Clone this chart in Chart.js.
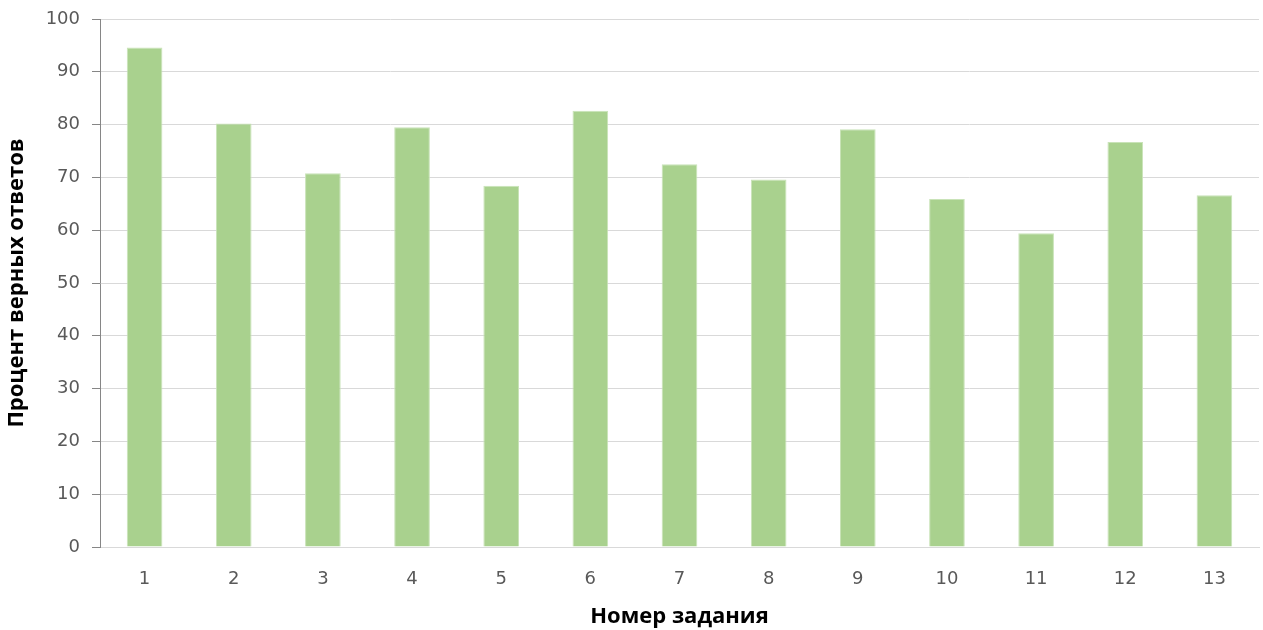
<!DOCTYPE html>
<html>
<head>
<meta charset="utf-8">
<script src="https://cdn.jsdelivr.net/npm/chart.js@4"></script>
<style>
html,body{margin:0;padding:0;background:#fff;}
#wrap{width:1263px;height:630px;}
</style>
</head>
<body>
<div id="wrap"><canvas id="c" width="1263" height="630"></canvas></div>
<script>
const categories = ["1","2","3","4","5","6","7","8","9","10","11","12","13"];
const values = [94.6, 80.2, 70.8, 79.5, 68.4, 82.6, 72.5, 69.6, 79.1, 65.9, 59.4, 76.7, 66.6];
const xTitle = "Номер задания";
const yTitle = "Процент верных ответов";

new Chart(document.getElementById('c'), {
  type: 'bar',
  data: {
    labels: categories,
    datasets: [{
      data: values,
      backgroundColor: '#a9d18e',
      borderColor: '#c9e3b8',
      borderWidth: 1,
      barPercentage: 0.4,
      categoryPercentage: 1.0
    }]
  },
  options: {
    responsive: false,
    animation: false,
    devicePixelRatio: 1,
    layout: { padding: { top: 19, right: 4, left: 0, bottom: 0 } },
    plugins: { legend: { display: false }, tooltip: { enabled: false } },
    scales: {
      x: {
        grid: { display: false, drawTicks: false },
        border: { color: '#d9d9d9', width: 1 },
        ticks: { color: '#595959', font: { family: 'DejaVu Sans', size: 18 }, padding: 22 },
        title: { display: true, text: xTitle, color: '#000', font: { family: 'Open Sans', size: 22, weight: 'bold' }, padding: { top: 4, bottom: 0 } },
        afterFit: s => { s.height = 83; }
      },
      y: {
        min: 0, max: 100,
        ticks: { stepSize: 10, color: '#595959', font: { family: 'DejaVu Sans', size: 18 }, padding: 12 },
        grid: { color: '#d9d9d9', tickColor: '#868686', tickLength: 8, drawTicks: true },
        border: { color: '#868686', width: 1 },
        title: { display: true, text: yTitle, color: '#000', font: { family: 'Open Sans', size: 22, weight: 'bold' }, padding: { top: 4, bottom: 4 } },
        afterFit: s => { s.width = 100; s.paddingTop = 0; s.paddingBottom = 0; }
      }
    }
  }
});
</script>
</body>
</html>
